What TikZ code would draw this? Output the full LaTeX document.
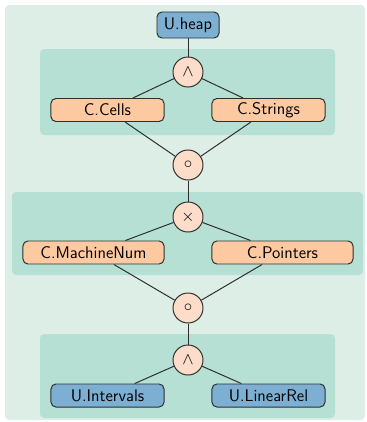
\documentclass[tikz,border=0pt]{standalone}
\usepackage{tikz}
\usetikzlibrary{shapes,positioning,calc}

\definecolor{bgouter}{HTML}{DCEEE5}
\definecolor{bgpanel}{HTML}{B5E0D3}
\definecolor{concfill}{HTML}{FDC9A1}
\definecolor{opfill}{HTML}{FDDCCA}
\definecolor{unitfill}{HTML}{7DAFD2}
\definecolor{edgegray}{HTML}{2E2E2E}

\begin{document}
\begin{tikzpicture}[x=0.025cm, y=-0.025cm, line width=0.7pt,
    font=\sffamily\fontsize{12}{14}\selectfont,
    unitbox/.style={draw=edgegray, fill=unitfill, rounded corners=3.5pt,
                    minimum width=2.825cm, minimum height=0.575cm, inner sep=0pt},
    concbox/.style={draw=edgegray, fill=concfill, rounded corners=3.5pt,
                    minimum width=2.825cm, minimum height=0.575cm, inner sep=0pt},
    opnode/.style={draw=edgegray, fill=opfill, circle, minimum size=0.75cm, inner sep=0pt},
    panel/.style={fill=bgpanel, rounded corners=3pt},
    link/.style={draw=edgegray}]

    % --- frame and panels ---
                \useasboundingbox (0,0) rectangle (367,422);
                \fill[bgouter, rounded corners=3pt] (5,5) rectangle (365,420);
                \fill[panel] (40,49)  rectangle (335,135);  % heap split
                \fill[panel] (12,192) rectangle (363,275);  % product
                \fill[panel] (40,334) rectangle (335,418);  % numeric split

    % --- top: heap ---
                \node[unitbox, minimum width=1.55cm, minimum height=0.65cm] (heap) at (188,25) {U.heap};
                \node[opnode] (meetA) at (188,72) {$\wedge$};
                \node[concbox] (cells)   at (107.5,110) {C.Cells};
                \node[concbox] (strings) at (268.5,110) {C.Strings};

    % --- middle: composition / product ---
                \node[opnode] (compA) at (188,165) {$\circ$};
                \node[opnode] (prod)  at (188,217) {$\times$};
                \node[concbox, minimum width=3.525cm] (machnum)  at (93.5,252.5)  {C.MachineNum};
                \node[concbox, minimum width=3.525cm] (pointers) at (282.5,252.5) {C.Pointers};

    % --- bottom: numeric domains ---
                \node[opnode] (compB) at (188,308) {$\circ$};
                \node[opnode] (meetB) at (188,360) {$\wedge$};
                \node[unitbox] (intervals) at (107.5,395.5) {U.Intervals};
                \node[unitbox] (linrel)    at (268.5,395.5) {U.LinearRel};

    % --- edges ---
                \draw[link] (heap) -- (meetA);
                \draw[link] (meetA) -- (cells);
                \draw[link] (meetA) -- (strings);
                \draw[link] (cells) -- (compA);
                \draw[link] (strings) -- (compA);
                \draw[link] (compA) -- (prod);
                \draw[link] (prod) -- (machnum);
                \draw[link] (prod) -- (pointers);
                \draw[link] (machnum) -- (compB);
                \draw[link] (pointers) -- (compB);
                \draw[link] (compB) -- (meetB);
                \draw[link] (meetB) -- (intervals);
                \draw[link] (meetB) -- (linrel);

\end{tikzpicture}
\end{document}
